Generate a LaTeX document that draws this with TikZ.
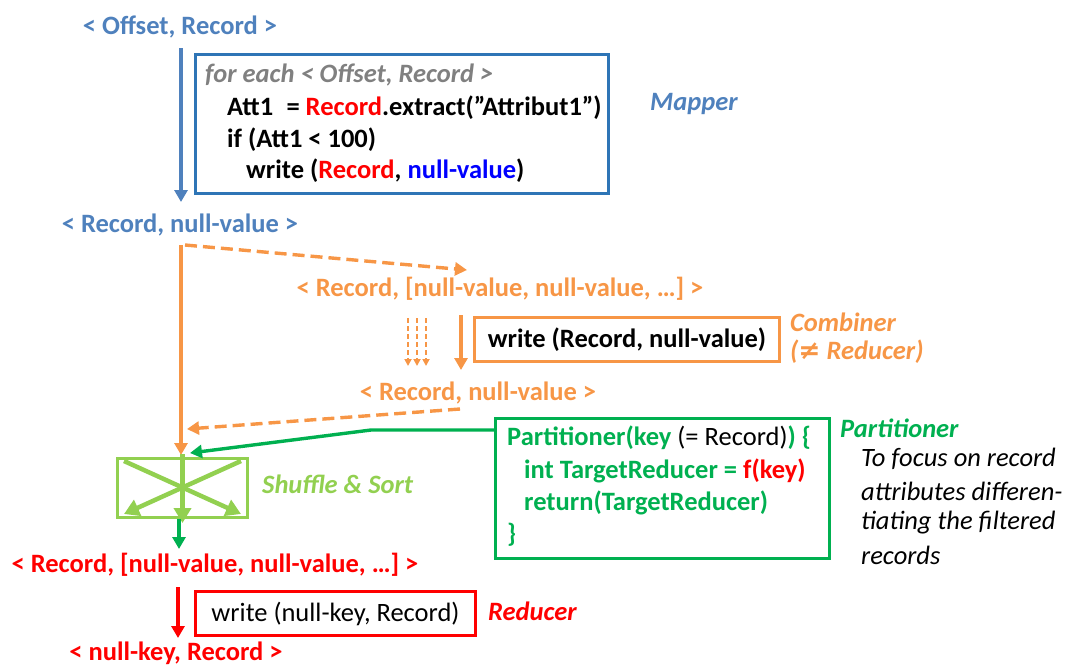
\documentclass[tikz,border=0pt]{standalone}
\usepackage{fontspec}
\setmainfont{Carlito}
\newfontfamily\symfont{DejaVu Sans}
\usetikzlibrary{arrows.meta}
\definecolor{flowblue}{HTML}{4F81BD}
\definecolor{boxblue}{HTML}{2E75B6}
\definecolor{flowgray}{HTML}{808080}
\definecolor{floworange}{HTML}{F79646}
\definecolor{flowgreen}{HTML}{00B050}
\definecolor{lightgreen}{HTML}{92D050}
\definecolor{flowred}{HTML}{FF0000}
\definecolor{pureblue}{HTML}{0000FF}
\begin{document}
\begin{tikzpicture}[x=1pt,y=-1pt,
  txt/.style={font=\fontsize{26.5}{30}\selectfont\bfseries, inner sep=0pt, anchor=west},
  lbl/.style={font=\fontsize{26.5}{30}\selectfont\bfseries\itshape, inner sep=0pt, anchor=west},
  note/.style={font=\fontsize{26.5}{30}\selectfont\itshape, inner sep=0pt, anchor=west},
  codebox/.style={draw, line width=3pt, inner sep=0pt},
  tip/.style={-{Triangle[length=12pt,width=13pt]}},
  smalltip/.style={-{Triangle[length=7pt,width=7pt]}},
  flow/.style={line width=3.4pt, tip},
  dashflow/.style={line width=3.4pt, tip, dash pattern=on 12pt off 6pt},
]
\useasboundingbox (0,0) rectangle (1067,667);

% ---------- Mapper ----------
\node[txt, anchor=center, flowblue] (in) at (180,27) {< Offset, Record >};
\node[codebox, boxblue, minimum width=413pt, minimum height=139pt, anchor=north west] (mapbox) at (194,53) {};
\node[lbl, flowgray] (m1) at (205,75) {for each < Offset, Record >};
\node[txt] (m2) at (227,108) {Att1\hspace{0.5em}= {\color{flowred}Record}.extract(”Attribut1”)};
\node[txt] (m3) at (227,140) {if (Att1 < 100)};
\node[txt] (m4) at (246,171) {write ({\color{flowred}Record}, {\color{pureblue}null-value})};
\node[lbl, flowblue] (maplbl) at (650,104) {Mapper};
\node[txt, anchor=center, flowblue] (mapout) at (180,225) {< Record, null-value >};
\coordinate (a1) at (181,48);
\coordinate (a2) at (181,202);
\draw[flow, flowblue] (a1) -- (a2);

% ---------- Combiner ----------
\coordinate (o0) at (181,245);
\coordinate (d0) at (185,245);
\coordinate (d1) at (467,270);
\node[txt, anchor=center, floworange] (cin) at (500,289) {< Record, [null-value, null-value, …] >};
\draw[dashflow, floworange] (d0) -- (d1);
\node[codebox, floworange, minimum width=305pt, minimum height=44pt, anchor=north west] (combox) at (473,316) {};
\node[txt] (c1) at (combox.center) [anchor=center] {write (Record, null-value)};
\node[lbl, floworange] (comlbl) at (790,322) {Combiner};
\node[lbl, floworange] (comlbl2) at (790,352) {({\symfont ≠} Reducer)};
\coordinate (s1) at (461,315);
\coordinate (s2) at (461,370);
\draw[flow, floworange] (s1) -- (s2);
\foreach \i/\xx in {1/408,2/417,3/426}{
  \coordinate (t\i a) at (\xx,318);
  \coordinate (t\i b) at (\xx,366);
  \draw[smalltip, floworange, line width=2pt, dash pattern=on 5pt off 3pt] (t\i a) -- (t\i b);
}
\node[txt, anchor=center, floworange] (cout) at (478,393) {< Record, null-value >};
\coordinate (d2) at (460,409);
\coordinate (d3) at (187,429);
\draw[dashflow, floworange] (d2) -- (d3);

% ---------- Shuffle & Sort ----------
\node[draw=lightgreen, line width=3pt, minimum width=130pt, minimum height=59pt, inner sep=0pt, anchor=north west] (shuf) at (116,457) {};
\coordinate (sin) at (181,455);
\draw[flow, floworange] (o0) -- (sin);
\begin{scope}[lightgreen, line width=4.5pt, -{Triangle[length=15pt,width=17pt]}]
  \draw ([shift={(8,4)}]shuf.north west) -- ([shift={(-8,-5)}]shuf.south east);
  \draw ([shift={(-8,4)}]shuf.north east) -- ([shift={(8,-5)}]shuf.south west);
  \draw ([yshift=3]shuf.north) -- ([yshift=-4]shuf.south);
\end{scope}
\node[lbl, lightgreen] (shuflbl) at (262,484) {Shuffle \& Sort};

% ---------- Partitioner ----------
\node[codebox, flowgreen, minimum width=334pt, minimum height=140pt, anchor=north west] (partbox) at (494,417) {};
\node[txt, flowgreen] (p1) at (507,438) {Partitioner(key {\color{black}\mdseries (= Record)}) \{};
\node[txt, flowgreen] (p2) at (524,471) {int TargetReducer = {\color{flowred}f(key)}};
\node[txt, flowgreen] (p3) at (524,503) {return(TargetReducer)};
\node[txt, flowgreen] (p4) at (507,535) {\}};
\node[lbl, flowgreen] (partlbl) at (840,428) {Partitioner};
\node[note] (n1) at (861,459) {To focus on record};
\node[note] (n2) at (861,491) {attributes differen-};
\node[note] (n3) at (861,523) {tiating the filtered};
\node[note] (n4) at (861,555) {records};
\coordinate (g0) at (partbox.west |- 0,430);
\coordinate (g1) at (371,430);
\coordinate (g2) at (190,453);
\draw[flow, flowgreen] (g0) -- (g1) -- (g2);

% ---------- Reducer ----------
\coordinate (r0) at (179,519);
\coordinate (rtip) at (179,549);
\node[txt, anchor=center, flowred] (rin) at (215,565) {< Record, [null-value, null-value, …] >};
\draw[flow, flowgreen] (r0) -- (rtip);
\node[codebox, flowred, minimum width=280pt, minimum height=44pt, anchor=north west] (redbox) at (194,590) {};
\node[txt, anchor=center] (rc) at (redbox.center) {\mdseries write (null-key, Record)};
\node[lbl, flowred] (redlbl) at (488,611) {Reducer};
\coordinate (r1) at (178,587);
\coordinate (r2) at (178,638);
\draw[flow, flowred] (r1) -- (r2);
\node[txt, anchor=center, flowred] (rout) at (176,653) {< null-key, Record >};
\end{tikzpicture}
\end{document}
